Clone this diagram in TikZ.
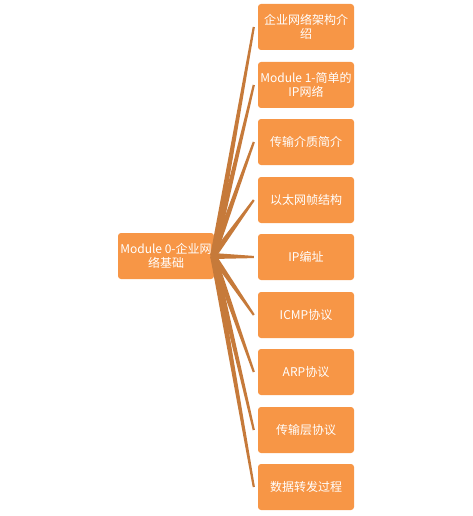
\documentclass[tikz,border=0pt]{standalone}
\usepackage{fontspec}
\setmainfont{Noto Sans CJK SC}
\usetikzlibrary{calc}
\definecolor{boxorange}{HTML}{F79646}
\definecolor{linkbrown}{HTML}{C67A3A}
\tikzset{
  topic/.style={fill=boxorange, rounded corners=3pt, minimum width=96pt, minimum height=46pt,
    inner sep=2pt, text=white, align=center, font=\fontsize{12}{14.5}\selectfont},
}
\newcommand{\taperlink}[2]{%
  \fill[linkbrown] ($(#1)!3pt!90:(#2)$) -- ($(#2)!1.1pt!-90:(#1)$) -- ($(#2)!1.1pt!90:(#1)$) -- ($(#1)!3pt!-90:(#2)$) -- cycle;}
\begin{document}
\begin{tikzpicture}[x=1pt,y=-1pt]
\useasboundingbox (0,0) rectangle (473,516);
\node[topic] (root) at (166,256) {Module 0-企业网\\络基础};
\node[topic] (c1) at (306,27) {企业网络架构介\\绍};
\node[topic] (c2) at (306,85) {Module 1-简单的\\IP网络};
\node[topic] (c3) at (306,142) {传输介质简介};
\node[topic] (c4) at (306,200) {以太网帧结构};
\node[topic] (c5) at (306,257) {IP编址};
\node[topic] (c6) at (306,315) {ICMP协议};
\node[topic] (c7) at (306,372) {ARP协议};
\node[topic] (c8) at (306,430) {传输层协议};
\node[topic] (c9) at (306,487) {数据转发过程};
\coordinate (s) at ($(root.east)+(-1,0)$);
\foreach \i in {1,...,9}{
  \coordinate (e\i) at ($(c\i.west)+(-4,0)$);
  \taperlink{s}{e\i}
}
\end{tikzpicture}
\end{document}
